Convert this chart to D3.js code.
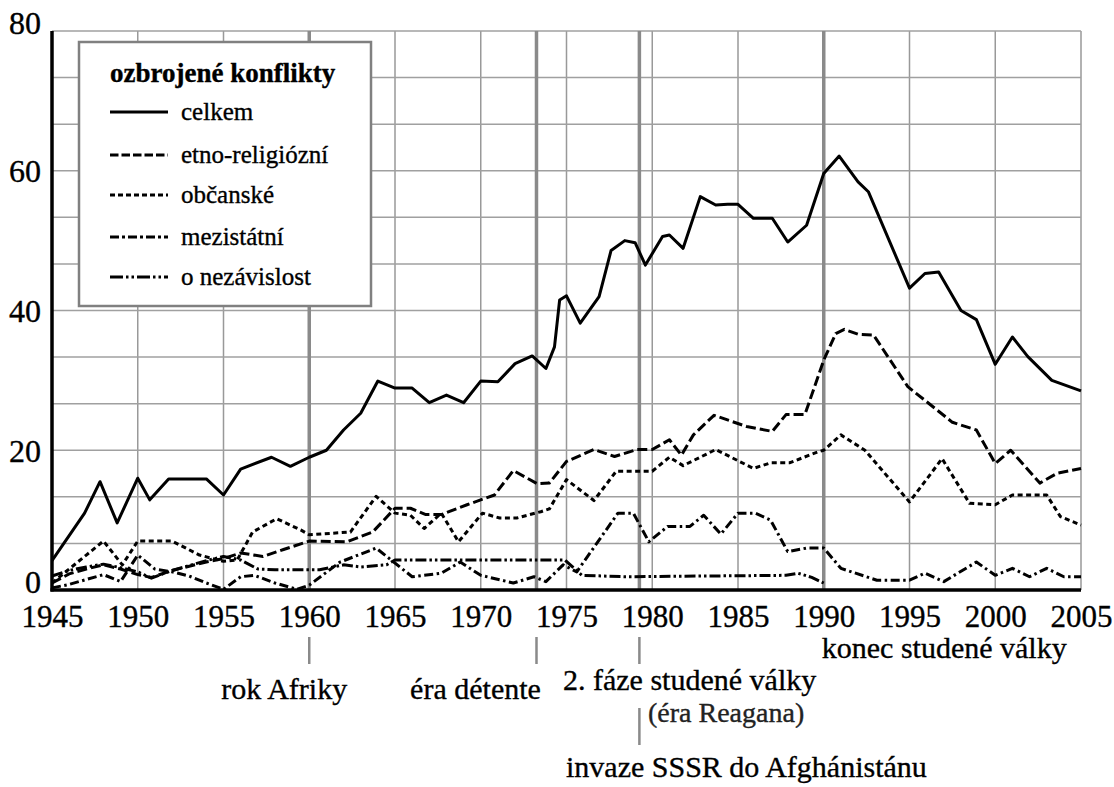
<!DOCTYPE html>
<html><head><meta charset="utf-8">
<script src="https://cdn.jsdelivr.net/npm/d3@7"></script>
<style>
html,body{margin:0;padding:0;background:#fff;}
svg text{font-family:"Liberation Serif","Tinos","Times New Roman","Nimbus Roman","DejaVu Serif",serif !important;fill:#000;stroke:#000;stroke-width:0.35px;}
</style></head>
<body><svg id="c" width="1114" height="787"></svg>
<script>
// ---- data (year, count) ----
const celkem = [[1945,4.2],[1946.9,11],[1947.8,15.5],[1948.8,9.6],[1950,16],[1950.7,12.9],[1951.8,15.9],[1954,15.9],[1955,13.6],[1956,17.3],[1957.8,19],[1958.9,17.7],[1960,19],[1961,20],[1962,22.9],[1963,25.3],[1964,29.9],[1965,28.9],[1966,28.9],[1967,26.8],[1968,27.9],[1969,26.8],[1970,29.9],[1971,29.8],[1972,32.4],[1973,33.5],[1973.8,31.7],[1974.3,34.8],[1974.6,41.5],[1975,42.1],[1975.8,38.2],[1976.9,42],[1977.6,48.6],[1978.4,50],[1979,49.7],[1979.6,46.5],[1980.6,50.6],[1981,50.8],[1981.8,48.9],[1982.8,56.3],[1983.7,55.1],[1984.4,55.2],[1985,55.2],[1985.9,53.2],[1987,53.2],[1987.9,49.8],[1989,52.2],[1990,59.6],[1990.9,62.1],[1992,58.4],[1992.6,57],[1995,43.2],[1995.9,45.3],[1996.7,45.5],[1998,40],[1998.9,38.7],[2000,32.3],[2001,36.2],[2001.9,33.4],[2003.3,30],[2005,28.5]];
const etno = [[1945,1.0],[1946,2.3],[1947,3.0],[1948,3.6],[1949,3.0],[1950,2.2],[1950.8,1.8],[1952,2.8],[1953,3.4],[1954,4.0],[1955,4.5],[1956,5.3],[1957.3,4.8],[1958.5,5.8],[1960,7.0],[1962.2,6.9],[1963.7,8.3],[1965,11.7],[1965.9,11.7],[1966.8,10.8],[1967.7,10.8],[1969.2,12.2],[1970.8,13.6],[1971.9,17.1],[1973.3,15.2],[1974,15.3],[1975,18.4],[1976.6,20.1],[1977.8,19.1],[1979.1,20.1],[1980,20.1],[1981,21.5],[1981.7,19.3],[1982.4,22.2],[1983.6,25],[1985.5,23.4],[1987,22.7],[1987.8,25.1],[1988.9,25.1],[1990,32.9],[1990.7,36.7],[1991.2,37.3],[1992,36.6],[1992.9,36.5],[1994.9,29.1],[1997.5,24],[1998.9,22.9],[2000,18.1],[2000.9,20],[2002.6,15.3],[2003.6,16.7],[2005,17.4]];
const obcanske = [[1945,1.0],[1946.2,3.4],[1947,5.0],[1948,7.0],[1949.1,3.6],[1950,7.0],[1952,7.0],[1953.6,5.0],[1955,4.1],[1955.8,4.3],[1956.7,8.3],[1958.1,10.2],[1959.5,8.6],[1960,7.9],[1962.4,8.3],[1963.9,13.4],[1965,11],[1965.9,10.7],[1966.7,8.8],[1967.7,11],[1968.7,6.9],[1970.1,11],[1971.1,10.3],[1972.1,10.3],[1973.5,11.2],[1974,11.6],[1975,15.8],[1976.6,12.8],[1977.9,17],[1980,17],[1981,19],[1981.8,17.8],[1983.7,20.1],[1985.9,17.4],[1986.9,18.2],[1988,18.2],[1989.7,19.8],[1990,20],[1991,22.2],[1992.4,20],[1995,12.6],[1996.9,18.8],[1998.5,12.4],[2000,12.2],[2001,13.6],[2003,13.6],[2003.8,10.5],[2005,9.3]];
const mezistatni = [[1945,0.3],[1946,0.8],[1947,1.5],[1948,2.2],[1949,1.2],[1950,5.0],[1951,3.0],[1952,2.6],[1953,2.0],[1954,1.0],[1955,0.1],[1956,1.9],[1956.8,2.1],[1958,1.0],[1959.3,0.1],[1960,0.7],[1961.8,4.0],[1963.9,6.0],[1966,1.9],[1967.7,2.4],[1968.8,4.0],[1970,2.1],[1971.9,1.0],[1973.1,1.9],[1973.8,1.2],[1974.8,3.6],[1975.6,2.6],[1978,11],[1978.9,11],[1979.8,6.9],[1980.9,9.1],[1982.2,9.1],[1983,10.7],[1984,8],[1985,11],[1986,11],[1986.9,10],[1987.9,5.5],[1989,6],[1990,6],[1991,3.1],[1993.1,1.4],[1995,1.4],[1995.9,2.4],[1997,1.2],[1998.9,4],[2000,2.1],[2001,3.1],[2002,1.9],[2003,3.1],[2004,1.9],[2005,1.9]];
const nezavislost = [[1945,2.0],[1946,2.8],[1947,3.3],[1948,3.7],[1949,3.2],[1950,2.6],[1950.8,1.7],[1952,2.8],[1953,3.5],[1954,4.2],[1955,4.8],[1956,4.3],[1957,3.0],[1958,2.9],[1960.6,2.9],[1962,3.6],[1963,3.3],[1964.5,3.6],[1965,4.3],[1974.9,4.3],[1975.9,2.1],[1978.4,1.9],[1987.8,2.1],[1988.5,2.4],[1989.3,1.8],[1990,1.0]];

const seriesNames = ["celkem","etno-religiózní","občanské","mezistátní","o nezávislost"];
const legendTitle = "ozbrojené konflikty";
const xTickYears = [1945,1950,1955,1960,1965,1970,1975,1980,1985,1990,1995,2000,2005];
const yTickLabels = [0,20,40,60,80];
const eventYears = [1960, 1973.25, 1979.25, 1990];
const eventLabels = ["rok Afriky","éra détente","2. fáze studené války","konec studené války"];
const subLabels = ["(éra Reagana)","invaze SSSR do Afghánistánu"];

// ---- layout / styles ----
const FONT = "'Liberation Serif','Tinos','Times New Roman','Nimbus Roman','DejaVu Serif',serif";
const svg = d3.select("#c");
svg.append("rect").attr("width",1114).attr("height",787).attr("fill","#fff");
const x = d3.scaleLinear().domain([1945,2005]).range([52,1081]);
const y = d3.scaleLinear().domain([0,80]).range([590,31]);
const dashes = [null,"10,4","5,3.5","9,3.5,2.5,3.5","11,3,2.5,3,2.5,3"];
const data = [celkem, etno, obcanske, mezistatni, nezavislost];

// grid
const grid = svg.append("g");
grid.selectAll("line.v").data(xTickYears).join("line")
  .attr("x1",d=>x(d)).attr("x2",d=>x(d)).attr("y1",y(80)).attr("y2",y(0))
  .attr("stroke","#999").attr("stroke-width",1.5);
grid.selectAll("line.h").data(d3.range(0,13).map(i=>i*80/12)).join("line")
  .attr("x1",x(1945)).attr("x2",x(2005)).attr("y1",d=>y(d)).attr("y2",d=>y(d))
  .attr("stroke","#a0a0a0").attr("stroke-width",1.5);

// event lines
svg.append("g").selectAll("line").data(eventYears).join("line")
  .attr("x1",d=>x(d)).attr("x2",d=>x(d)).attr("y1",y(80)).attr("y2",y(0))
  .attr("stroke","#8a8a8a").attr("stroke-width",3.5);

// series
const line = d3.line().x(d=>x(d[0])).y(d=>y(d[1]));
svg.append("g").selectAll("path").data(data).join("path")
  .attr("d",line).attr("fill","none").attr("stroke","#000")
  .attr("stroke-width",3).attr("stroke-linejoin","round")
  .attr("stroke-dasharray",(d,i)=>dashes[i]);

// axes
const xAxis = d3.axisBottom(x).tickValues(xTickYears).tickFormat(d3.format("d")).tickSize(0);
const gx = svg.append("g").attr("transform",`translate(0,${y(0)})`).call(xAxis)
  .attr("font-family",FONT).attr("font-size",31);
gx.select(".domain").remove();
gx.selectAll("text").attr("y",37).attr("dy",0).attr("fill","#000");
const yAxis = d3.axisLeft(y).tickValues(yTickLabels).tickSize(0).tickPadding(11);
const gy = svg.append("g").attr("transform",`translate(${x(1945)},0)`).call(yAxis)
  .attr("font-family",FONT).attr("font-size",32);
gy.select(".domain").remove();
gy.selectAll("text").attr("fill","#000").attr("dy","0.34em")
  .attr("y",d=>(d===0||d===80)?-8:0);
svg.append("line").attr("x1",x(1945)).attr("x2",x(1945)).attr("y1",y(80)).attr("y2",y(0)+1.5)
  .attr("stroke","#000").attr("stroke-width",3.5);
svg.append("line").attr("x1",x(1945)-1.5).attr("x2",x(2005)).attr("y1",y(0)).attr("y2",y(0))
  .attr("stroke","#000").attr("stroke-width",3.5);

// legend
const lg = svg.append("g").attr("font-family",FONT);
lg.append("rect").attr("x",79).attr("y",42).attr("width",292).attr("height",264)
  .attr("fill","#fff").attr("stroke","#808080").attr("stroke-width",2.5);
lg.append("text").attr("x",110).attr("y",82).text(legendTitle)
  .attr("font-size",27).attr("font-weight","bold");
const legY = [112,155,195,237,277];
const legDash = [null,"8.5,3","5,3","9,3,3,3","13,3,2.5,3,2.5,3"];
seriesNames.forEach((n,i)=>{
  lg.append("line").attr("x1",110).attr("x2",168).attr("y1",legY[i]).attr("y2",legY[i])
    .attr("stroke","#000").attr("stroke-width",3).attr("stroke-dasharray",legDash[i]);
  lg.append("text").attr("x",181).attr("y",legY[i]+8).text(n).attr("font-size",25);
});

// annotations below axis
const ann = svg.append("g").attr("font-family",FONT).attr("font-size",30);
ann.selectAll("line.t").data(eventYears.slice(0,3)).join("line")
  .attr("x1",d=>x(d)).attr("x2",d=>x(d)).attr("y1",637).attr("y2",664)
  .attr("stroke","#8a8a8a").attr("stroke-width",2.5);
ann.append("line").attr("x1",x(eventYears[2])).attr("x2",x(eventYears[2]))
  .attr("y1",708).attr("y2",745).attr("stroke","#8a8a8a").attr("stroke-width",2.5);
ann.append("text").attr("x",x(eventYears[0])-25).attr("y",699).attr("text-anchor","middle")
  .text(eventLabels[0]);
ann.append("text").attr("x",x(eventYears[1])-61).attr("y",699).attr("text-anchor","middle")
  .text(eventLabels[1]);
ann.append("text").attr("x",563).attr("y",690).text(eventLabels[2]);
ann.append("text").attr("x",x(eventYears[3])-2).attr("y",658).text(eventLabels[3]);
ann.append("text").attr("x",648).attr("y",722).text(subLabels[0]).attr("font-size",28)
  .style("fill","#222").style("stroke","#222");
ann.append("text").attr("x",566).attr("y",777).text(subLabels[1]);
</script></body></html>
